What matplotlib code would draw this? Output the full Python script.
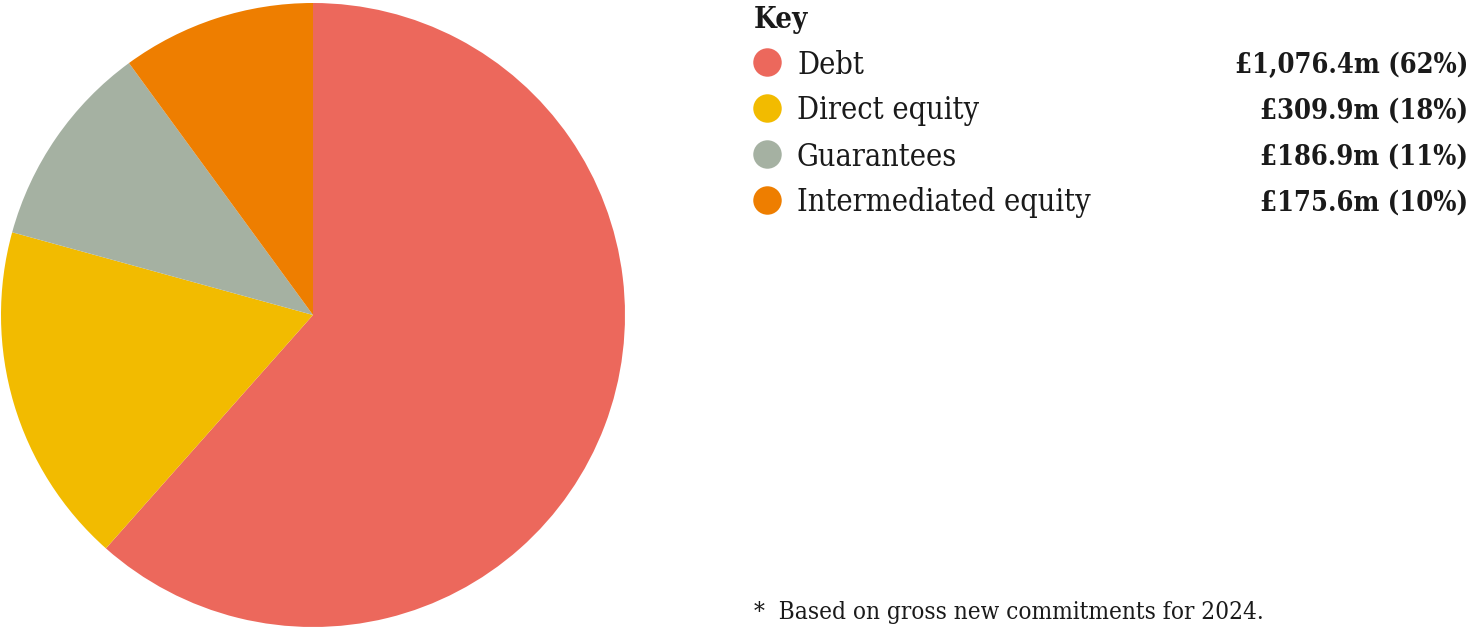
import matplotlib
matplotlib.use("Agg")
import matplotlib.pyplot as plt

# commitments by product, £m
categories = ["Debt", "Direct equity", "Guarantees", "Intermediated equity"]
values = [1076.4, 309.9, 186.9, 175.6]
value_labels = ["£1,076.4m (62%)", "£309.9m (18%)", "£186.9m (11%)", "£175.6m (10%)"]
colors = ["#EC685C", "#F2BB00", "#A5B1A2", "#EE7E00"]
footnote = "*  Based on gross new commitments for 2024."

W, H = 1469, 629
fig = plt.figure(figsize=(W / 100, H / 100), dpi=100)

# pie, centre ~(313, 315) px, radius ~312 px
ax = fig.add_axes([1 / W, 2 / H, 624 / W, 624 / H])
ax.pie(values, colors=colors, startangle=90, counterclock=False, radius=1,
       wedgeprops=dict(linewidth=0))
ax.set_xlim(-1, 1)
ax.set_ylim(-1, 1)
ax.set_aspect("equal")
ax.axis("off")

# overlay axes in pixel units for the key
ov = fig.add_axes([0, 0, 1, 1], facecolor="none")
ov.set_xlim(0, W)
ov.set_ylim(H, 0)
ov.axis("off")

font = dict(family="DejaVu Serif", fontstretch="condensed", color="#1a1a1a")

ov.text(754, 19, "Key", fontsize=21, fontweight="bold", va="center", ha="left", **font)

rows_y = [62, 108, 154, 200]
for y, name, lab, c in zip(rows_y, categories, value_labels, colors):
    ov.scatter([767], [y], s=420, color=c, linewidths=0)
    ov.text(797, y + 3, name, fontsize=22, va="center", ha="left", **font)
    ov.text(1468, y + 3, lab, fontsize=19.5, fontweight="bold", va="center", ha="right", **font)

ov.text(754, 613, footnote, fontsize=17.5, va="center", ha="left", **font)

fig.savefig("out.png", dpi=100)
